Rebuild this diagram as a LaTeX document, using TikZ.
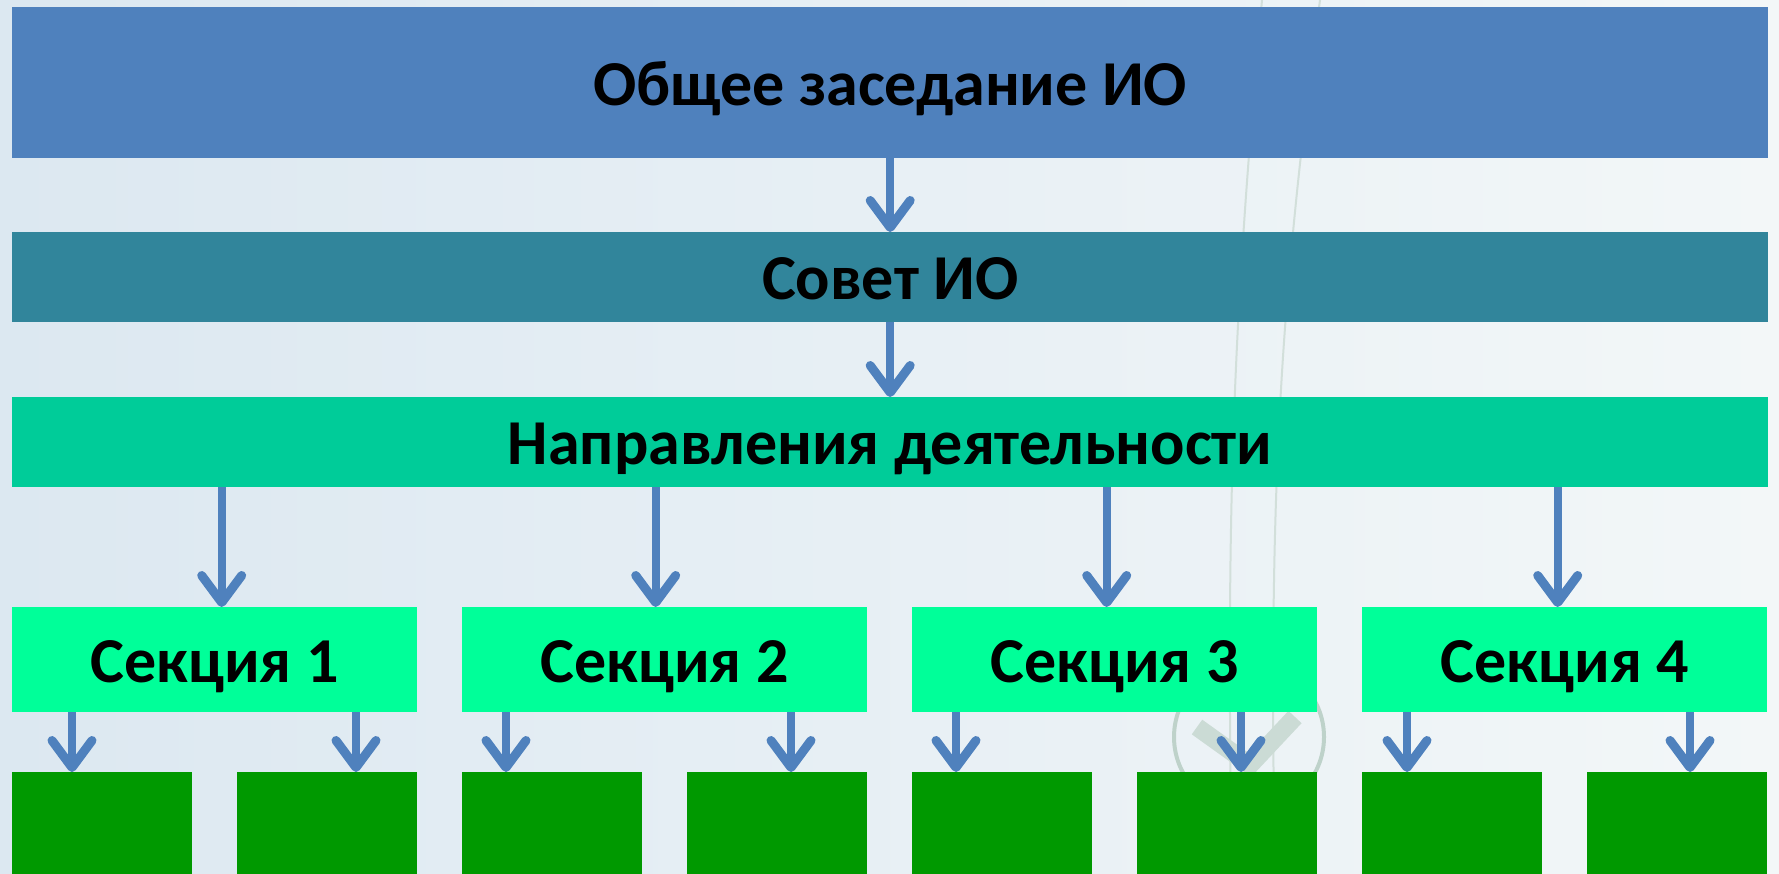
\documentclass[tikz,border=0pt]{standalone}
\usepackage{fontspec}
\setmainfont{Carlito}
\usetikzlibrary{arrows.meta, calc, positioning}
\definecolor{b1}{RGB}{79, 129, 189}
\definecolor{t1}{RGB}{49, 133, 155}
\definecolor{g1}{RGB}{0, 204, 153}
\definecolor{g2}{RGB}{0, 255, 153}
\definecolor{g3}{RGB}{0, 153, 0}
\definecolor{bgl}{RGB}{220, 232, 241}
\definecolor{bgm}{RGB}{238, 243, 241}
\definecolor{bgr}{RGB}{243, 247, 248}
\definecolor{dec}{RGB}{190, 210, 202}

\begin{document}
\begin{tikzpicture}[x=1pt, y=-1pt,
		font=\bfseries\fontsize{64}{72}\selectfont,
		box/.style={rectangle, anchor=north west, inner sep=0pt, text height=45pt, text depth=0pt},
		arr/.style={-{Straight Barb[length=27pt, width=40pt, line width=9pt, round]}, line width=8pt, b1}]

			\useasboundingbox (0,0) rectangle (1779,874);
			\shade[left color=bgl, middle color=bgm, right color=bgr] (0,0) rectangle (1779,874);

			% background marks
			\draw[dec!70, line width=2pt] (1262,0) .. controls (1235,300) and (1225,500) .. (1232,874);
			\draw[dec!70, line width=2pt] (1320,0) .. controls (1280,300) and (1268,500) .. (1275,874);
			\draw[dec, line width=4pt] (1249,737) circle[radius=75];
			\draw[dec!80, line width=18pt] (1197,727) -- (1250,765) -- (1295,717);

			\node[box, fill=b1, minimum width=1756pt, minimum height=151pt] (meet) at (12,7) {Общее заседание ИО};
			\node[box, fill=t1, minimum width=1756pt, minimum height=90pt] (council) at (12,232) {Совет ИО};
			\node[box, fill=g1, minimum width=1756pt, minimum height=90pt] (dir) at (12,397) {Направления деятельности};

			\foreach \i in {1,...,4} {
					\node[box, fill=g2, minimum width=405pt, minimum height=105pt] (sec\i) at ({12+450*(\i-1)},607) {Секция \i};
				}
			\foreach \j in {1,...,8} {
					\node[box, fill=g3, minimum width=180pt, minimum height=110pt] (leaf\j) at ({12+225*(\j-1)},772) {};
				}

			\draw[arr] (meet) -- (council);
			\draw[arr] (council) -- (dir);

			\foreach \i/\d in {1/7, 2/-9, 3/-8, 4/-7} {
					\coordinate (ts) at ($(sec\i.north)+(\d,0)$);
					\draw[arr] (ts |- dir.south) -- (ts);
				}

			\foreach \i/\a/\b in {1/60/119, 2/44/104, 3/44/104, 4/45/103} {
					\pgfmathtruncatemacro\l{2*\i-1}
					\pgfmathtruncatemacro\r{2*\i}
					\coordinate (tl) at ($(leaf\l.north west)+(\a,0)$);
					\coordinate (tr) at ($(leaf\r.north west)+(\b,0)$);
					\draw[arr] (tl |- sec\i.south) -- (tl);
					\draw[arr] (tr |- sec\i.south) -- (tr);
				}

		\end{tikzpicture}
\end{document}
